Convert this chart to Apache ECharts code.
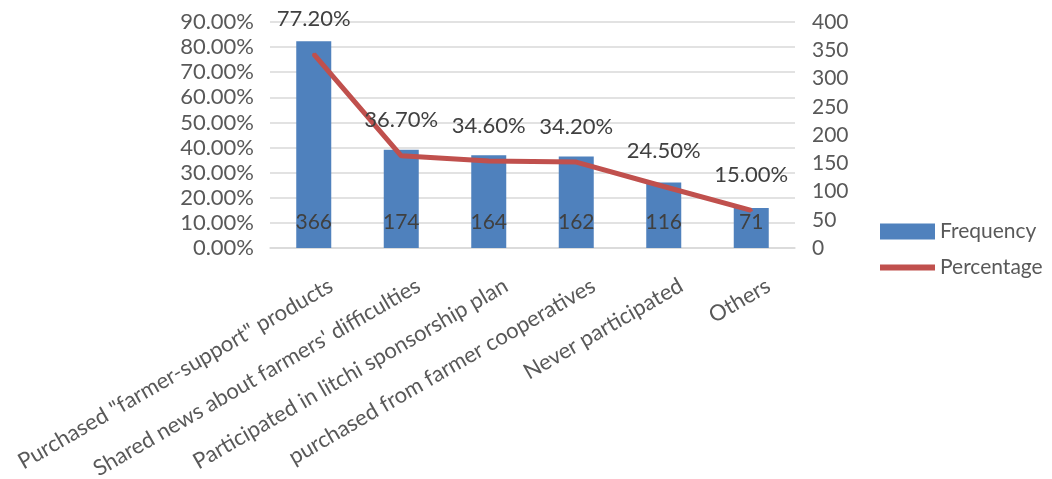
<!DOCTYPE html>
<html><head><meta charset="utf-8">
<script src="https://cdn.jsdelivr.net/npm/echarts@6/dist/echarts.min.js"></script>
<style>html,body{margin:0;padding:0;background:#fff}#c{width:1052px;height:479px}</style>
</head><body><div id="c"></div>
<script>
const categories = ['Purchased "farmer-support" products', "Shared news about farmers' difficulties", 'Participated in litchi sponsorship plan', 'purchased from farmer cooperatives', 'Never participated', 'Others'];
const frequency = [366, 174, 164, 162, 116, 71];
const percentage = [77.2, 36.7, 34.6, 34.2, 24.5, 15.0];
const leftTicks = [0, 10, 20, 30, 40, 50, 60, 70, 80, 90];
const rightTicks = [0, 50, 100, 150, 200, 250, 300, 350, 400];

const FONT = 'Lato';
const chart = echarts.init(document.getElementById('c'));
chart.setOption({
  animation: false,
  textStyle: { fontFamily: FONT },
  grid: { left: 270, right: 257, top: 22, bottom: 231, containLabel: false, outerBoundsMode: 'none' },
  legend: {
    orient: 'vertical', left: 875, top: 216, itemGap: 15,
    itemWidth: 55, itemHeight: 16,
    textStyle: { fontSize: 21, color: '#595959', fontFamily: FONT },
    data: [
      { name: 'Frequency', icon: 'rect', itemStyle: { color: '#4F81BD' } },
      { name: 'Percentage', icon: 'path://M0,0 L55,0 L55,6 L0,6 Z', itemStyle: { color: '#C0504D', opacity: 1 } }
    ]
  },
  xAxis: {
    type: 'category', data: categories,
    axisLine: { show: true, lineStyle: { color: '#D9D9D9', width: 1.5 } },
    axisTick: { show: false },
    axisLabel: { rotate: 30, interval: 0, fontSize: 22, color: '#595959', margin: 46, padding: [0, -20, 0, 0], fontFamily: FONT }
  },
  yAxis: [
    { type: 'value', min: leftTicks[0], max: leftTicks[leftTicks.length - 1], interval: 10,
      axisLabel: { formatter: v => v.toFixed(2) + '%', fontSize: 22, color: '#595959', margin: 16, fontFamily: FONT },
      splitLine: { lineStyle: { color: '#D9D9D9', width: 1.5 } },
      axisLine: { show: false }, axisTick: { show: false } },
    { type: 'value', min: rightTicks[0], max: rightTicks[rightTicks.length - 1], interval: 50,
      axisLabel: { fontSize: 21, color: '#595959', margin: 17, fontFamily: FONT },
      splitLine: { show: false }, axisLine: { show: false }, axisTick: { show: false } }
  ],
  series: [
    { name: 'Frequency', type: 'bar', yAxisIndex: 1, data: frequency, barWidth: 35,
      itemStyle: { color: '#4F81BD' },
      label: { show: true, position: 'insideBottom', distance: 15, fontSize: 21, color: '#404040', fontFamily: FONT } },
    { name: 'Percentage', type: 'line', yAxisIndex: 0, data: percentage,
      symbol: 'circle', symbolSize: 3, showSymbol: true,
      lineStyle: { color: '#C0504D', width: 5 }, itemStyle: { color: '#C0504D' },
      label: { show: true, position: 'top', distance: 23, fontSize: 22, color: '#404040', fontFamily: FONT,
        formatter: p => p.value.toFixed(2) + '%' } }
  ]
});
</script></body></html>
